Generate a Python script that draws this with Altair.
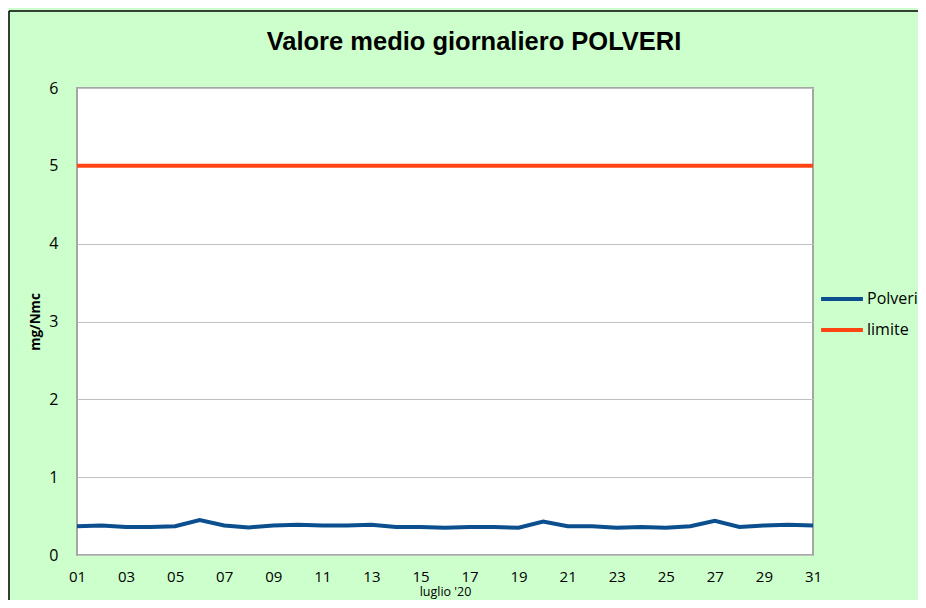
import altair as alt
import pandas as pd

days = ["01","02","03","04","05","06","07","08","09","10","11","12","13","14","15","16",
        "17","18","19","20","21","22","23","24","25","26","27","28","29","30","31"]
polveri = [0.37,0.38,0.36,0.36,0.37,0.45,0.38,0.355,0.38,0.39,0.38,0.38,0.39,0.36,0.36,0.35,
           0.36,0.36,0.35,0.43,0.37,0.37,0.35,0.36,0.35,0.37,0.44,0.36,0.38,0.39,0.38]
limite = [5.0] * 31
series_names = ["Polveri", "limite"]
series_colors = ["#0b4f8f", "#ff4414"]
odd_days = days[::2]
chart_title = "Valore medio giornaliero POLVERI"

rows = []
for d, p, l in zip(days, polveri, limite):
    rows.append({"giorno": d, "serie": "Polveri", "valore": p})
    rows.append({"giorno": d, "serie": "limite", "valore": l})
df = pd.DataFrame(rows)

FONT = "Open Sans"

lines = alt.Chart(df).mark_line(strokeWidth=4).encode(
    x=alt.X("giorno:O", sort=days,
            scale=alt.Scale(type="point", padding=0),
            axis=alt.Axis(title="luglio '20", values=odd_days, labelAngle=0,
                          ticks=False, domain=False, grid=False,
                          labelFontSize=15, labelColor="#000", labelPadding=14,
                          labelFont=FONT, titleFont=FONT, titleFontSize=12.5,
                          titleFontWeight="normal", titleColor="#000", titlePadding=1,
                          titleBaseline="top")),
    y=alt.Y("valore:Q", scale=alt.Scale(domain=[0, 6]),
            axis=alt.Axis(title="mg/Nmc", values=[0,1,2,3,4,5,6], ticks=False, domain=False,
                          grid=True, gridColor="#c0c0c0", gridWidth=1,
                          labelFontSize=16, labelColor="#000", labelPadding=19,
                          labelFont=FONT, titleFont=FONT, titleFontSize=13.5,
                          titleFontWeight="bold", titleColor="#000", titlePadding=6)),
    color=alt.Color("serie:N", scale=alt.Scale(domain=series_names, range=series_colors),
                    legend=alt.Legend(title=None, orient="none", legendX=742, legendY=188,
                                      symbolType="stroke", symbolSize=1750, symbolStrokeWidth=4,
                                      labelFontSize=16, labelFont=FONT, labelColor="#000",
                                      rowPadding=-2, labelOffset=2)),
)

frame_df = pd.DataFrame({"k": [0]})
top_edge = alt.Chart(frame_df).mark_rule(stroke="#000", strokeWidth=1.5, clip=False).encode(
    x=alt.value(-68), x2=alt.value(845), y=alt.value(-77)
)
left_edge = alt.Chart(frame_df).mark_rule(stroke="#000", strokeWidth=1.5, clip=False).encode(
    x=alt.value(-68), y=alt.value(-77), y2=alt.value(520)
)
title_text = alt.Chart(pd.DataFrame({"t": [chart_title]})).mark_text(
    font="Liberation Sans", fontSize=25.5, fontWeight="bold", color="#000",
    align="center", baseline="alphabetic", clip=False
).encode(text="t:N", x=alt.value(397), y=alt.value(-38))

chart = alt.layer(top_edge, left_edge, title_text, lines).properties(
    width=736, height=467,
    padding={"left": 69, "top": 80, "right": 105, "bottom": 45},
    autosize=alt.AutoSizeParams(type="none"),
    background="#ccffcc",
).configure_view(fill="white", stroke="#a6a6a6", strokeWidth=2)

chart.save("out.html", embed_options={"renderer": "svg", "actions": False})
